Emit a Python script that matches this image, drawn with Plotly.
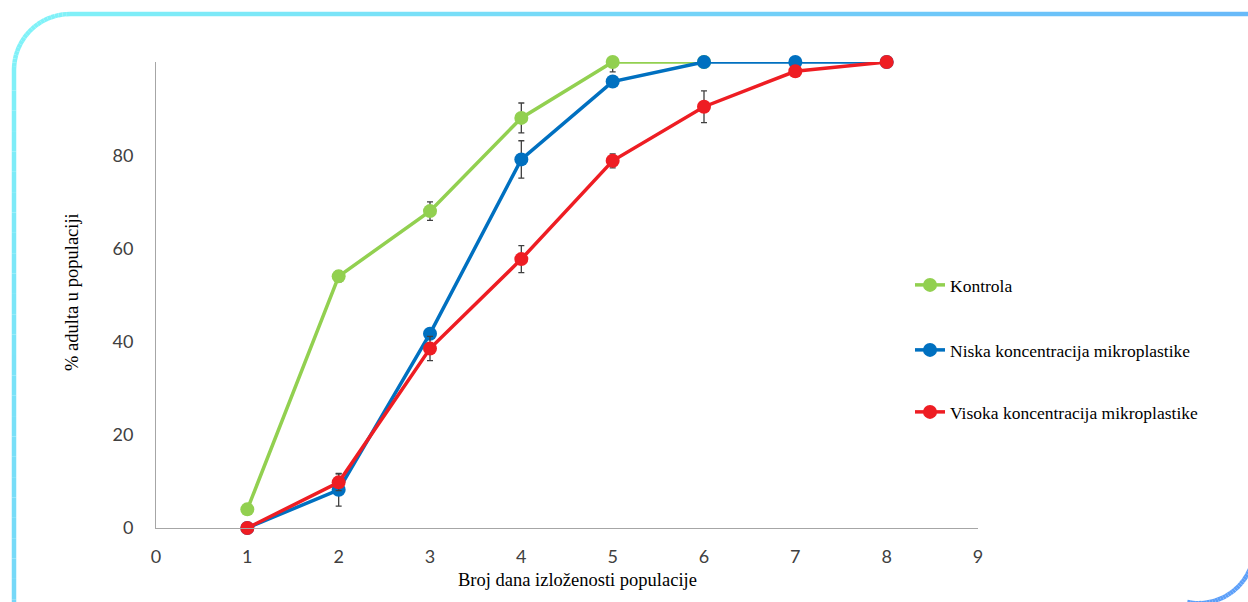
import plotly.graph_objects as go
import numpy as np

# ---- data ----
days_kontrola = [1, 2, 3, 4, 5, 6]
kontrola = [4, 54, 68, 88, 100, 100]
kontrola_err_plus = [0, 1.2, 2.0, 3.2, 0, 0]
kontrola_err_minus = [0, 1.2, 2.0, 3.2, 2.1, 0]

days = [1, 2, 3, 4, 5, 6, 7, 8]
niska = [0, 8.2, 41.7, 79.1, 95.8, 100, 100, 100]
niska_err = [0, 3.5, 0, 4.0, 0, 0, 0, 0]

visoka = [0, 9.8, 38.5, 57.7, 78.8, 90.4, 98.0, 100]
visoka_err = [0, 1.8, 2.6, 2.9, 1.5, 3.4, 0.5, 0]

names = ["Kontrola", "Niska koncentracija mikroplastike", "Visoka koncentracija mikroplastike"]
colors = ["#92D050", "#0070C0", "#EE1D23"]

x_ticks = list(range(0, 10))
y_ticks = [0, 20, 40, 60, 80]

W, H = 1248, 602
L, R, T, B = 156, 978, 62, 528


def px2paper(px, py):
    return (px - L) / (R - L), (B - py) / (B - T)


fig = go.Figure()
err_style = dict(color="#404040", thickness=1.3, width=3)

fig.add_trace(go.Scatter(
    x=days_kontrola, y=kontrola, name=names[0], mode="lines+markers",
    line=dict(color=colors[0], width=3.5), marker=dict(size=14, color=colors[0]),
    error_y=dict(type="data", symmetric=False, array=kontrola_err_plus,
                 arrayminus=kontrola_err_minus, **err_style),
    cliponaxis=False, legend="legend"))
fig.add_trace(go.Scatter(
    x=days, y=niska, name=names[1], mode="lines+markers",
    line=dict(color=colors[1], width=3.5), marker=dict(size=14, color=colors[1]),
    error_y=dict(type="data", array=niska_err, **err_style),
    cliponaxis=False, legend="legend2"))
fig.add_trace(go.Scatter(
    x=days, y=visoka, name=names[2], mode="lines+markers",
    line=dict(color=colors[2], width=3.5), marker=dict(size=14, color=colors[2]),
    error_y=dict(type="data", array=visoka_err, **err_style),
    cliponaxis=False, legend="legend3"))

# frame: rectangle with rounded top-left and bottom-right corners, gradient stroke
fl, ft, fr, fb = 14, 14, 1290, 640
rad_tl = 56
cx_br, cy_br, rad_br = 1198.4, 547.2, 56
pts = []
def arc(cx, cy, r, a0, a1, n=24):
    for a in np.linspace(a0, a1, n):
        pts.append((cx + r * np.cos(a), cy + r * np.sin(a)))
arc(fl + rad_tl, ft + rad_tl, rad_tl, np.pi, 1.5 * np.pi)
pts.append((fr, ft))
pts.append((fr, fb))
pts.append((fl, fb))
pts.append(pts[0])

def densify(p):
    out = []
    for (x0, y0), (x1, y1) in zip(p[:-1], p[1:]):
        n = max(1, int(np.hypot(x1 - x0, y1 - y0) / 20))
        for k in range(n):
            out.append((x0 + (x1 - x0) * k / n, y0 + (y1 - y0) * k / n))
    out.append(p[-1])
    return out

c0 = np.array([130, 245, 248])
c1 = np.array([92, 158, 250])
shapes = []
def add_segments(p):
    for (x0, y0), (x1, y1) in zip(p[:-1], p[1:]):
        t = ((x0 + x1) / 2 + (y0 + y1) / 2) / (W + H)
        t = min(max(t, 0), 1)
        c = c0 + (c1 - c0) * t
        a0 = px2paper(x0, y0)
        a1 = px2paper(x1, y1)
        shapes.append(dict(type="line", xref="paper", yref="paper",
                           x0=a0[0], y0=a0[1], x1=a1[0], y1=a1[1],
                           line=dict(color="rgb(%d,%d,%d)" % tuple(c.astype(int)), width=4.5),
                           layer="below"))
add_segments(densify(pts))
br_vis = [(cx_br + rad_br * np.cos(a), cy_br + rad_br * np.sin(a))
          for a in np.linspace(-0.2, 0.5 * np.pi + 0.2, 40)]
add_segments(br_vis)

tick_font = dict(family="Lato, Carlito, sans-serif", size=18, color="#404040")
serif = "Liberation Serif, Times New Roman, serif"

legend_base = dict(font=dict(family=serif, size=17.5, color="#000000"),
                   bgcolor="rgba(0,0,0,0)", xanchor="left", yanchor="middle",
                   x=px2paper(910, 0)[0])

fig.update_layout(
    width=W, height=H,
    margin=dict(l=L, r=W - R, t=T, b=H - B),
    paper_bgcolor="white", plot_bgcolor="white",
    shapes=shapes,
    showlegend=True,
    legend=dict(**legend_base, y=px2paper(0, 285)[1]),
    legend2=dict(**legend_base, y=px2paper(0, 350)[1]),
    legend3=dict(**legend_base, y=px2paper(0, 412)[1]),
    xaxis=dict(range=[0, 9], tickvals=x_ticks, showgrid=False, zeroline=False,
               showline=True, linecolor="#A6A6A6", linewidth=1, ticks="",
               tickfont=tick_font, ticklabelstandoff=12),
    yaxis=dict(range=[0, 100], tickvals=y_ticks, showgrid=False, zeroline=False,
               showline=True, linecolor="#A6A6A6", linewidth=1, ticks="",
               tickfont=tick_font, ticklabelstandoff=18),
    annotations=[
        dict(text="Broj dana izloženosti populacije", xref="paper", yref="paper",
             x=px2paper(577, 0)[0], y=px2paper(0, 580)[1], showarrow=False,
             xanchor="center", yanchor="middle",
             font=dict(family=serif, size=18.5, color="#000000")),
        dict(text="% adulta u populaciji", xref="paper", yref="paper",
             x=px2paper(72, 0)[0], y=px2paper(0, 292)[1], showarrow=False,
             textangle=-90, xanchor="center", yanchor="middle",
             font=dict(family=serif, size=18.5, color="#000000")),
    ],
)

fig.write_html("out.html")
